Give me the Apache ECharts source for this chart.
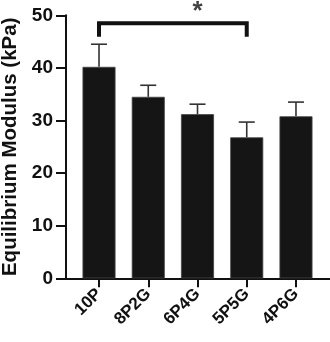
<!DOCTYPE html>
<html>
<head>
<meta charset="utf-8">
<script src="https://cdn.jsdelivr.net/npm/echarts@6/dist/echarts.min.js"></script>
<style>html,body{margin:0;padding:0;background:#fff}#c{width:330px;height:342px}</style>
</head>
<body>
<div id="c"></div>
<script>
var categories = ['10P', '8P2G', '6P4G', '5P5G', '4P6G'];
var means = [40.2, 34.5, 31.2, 26.8, 30.8];
var errors = [4.3, 2.2, 1.9, 2.9, 2.7];
var yTicks = [0, 10, 20, 30, 40, 50];
var sigBracket = { from: '10P', to: '5P5G', level: 48.5, legBottom: 45.9, label: '*', labelLevel: 50.7 };

var FONT = 'Liberation Sans, Arial, Helvetica, sans-serif';
var chart = echarts.init(document.getElementById('c'), null, { renderer: 'canvas' });

var errData = categories.map(function (c, i) { return [i, means[i], means[i] + errors[i]]; });
var fromIdx = categories.indexOf(sigBracket.from), toIdx = categories.indexOf(sigBracket.to);

chart.setOption({
  animation: false,
  grid: [
    { left: 74.4, right: 9.4, top: 15.3, bottom: 63.7, containLabel: false, outerBoundsMode: 'none' },
    { left: 66, right: 0, top: 15.3, bottom: 63.7, containLabel: false, outerBoundsMode: 'none' }
  ],
  xAxis: [
    {
      type: 'category', gridIndex: 0, data: categories,
      axisLine: { show: false },
      axisTick: { show: true, alignWithLabel: true, length: 9, lineStyle: { color: '#111', width: 2 } },
      axisLabel: { rotate: 45, margin: 13, color: '#111', fontFamily: FONT, fontWeight: 'bold', fontSize: 17 }
    },
    {
      type: 'value', gridIndex: 1, min: 0, max: 1,
      axisLine: { show: true, lineStyle: { color: '#111', width: 2 } },
      axisTick: { show: false }, axisLabel: { show: false }, splitLine: { show: false }
    }
  ],
  yAxis: [
    {
      type: 'value', gridIndex: 0, min: yTicks[0], max: yTicks[yTicks.length - 1], interval: 10, offset: 8.4,
      name: 'Equilibrium Modulus (kPa)', nameLocation: 'middle', nameGap: 42,
      nameTextStyle: { color: '#111', fontFamily: FONT, fontWeight: 'bold', fontSize: 20.5 },
      axisLine: { show: true, lineStyle: { color: '#111', width: 2 } },
      axisTick: { show: true, length: 10, lineStyle: { color: '#111', width: 2 } },
      axisLabel: { margin: 13, color: '#111', fontFamily: FONT, fontWeight: 'bold', fontSize: 19 },
      splitLine: { show: false }
    },
    { type: 'value', gridIndex: 1, show: false, min: 0, max: 1 }
  ],
  series: [
    {
      type: 'bar', xAxisIndex: 0, yAxisIndex: 0, data: means, barWidth: 33,
      itemStyle: { color: '#151515', borderColor: '#444', borderWidth: 0.8 }
    },
    {
      type: 'custom', xAxisIndex: 0, yAxisIndex: 0, data: errData, z: 1,
      renderItem: function (params, api) {
        var top = api.coord([api.value(0), api.value(2)]);
        var base = api.coord([api.value(0), api.value(1)]);
        var half = 8;
        return {
          type: 'group',
          children: [
            { type: 'line', shape: { x1: top[0], y1: top[1], x2: base[0], y2: base[1] }, style: { stroke: '#333', lineWidth: 1.6 } },
            { type: 'line', shape: { x1: top[0] - half, y1: top[1], x2: top[0] + half, y2: top[1] }, style: { stroke: '#333', lineWidth: 1.6 } }
          ]
        };
      }
    },
    {
      type: 'line', xAxisIndex: 0, yAxisIndex: 0, symbol: 'none', silent: true,
      lineStyle: { color: '#111', width: 4, join: 'miter', cap: 'butt' },
      data: [[fromIdx, sigBracket.legBottom], [fromIdx, sigBracket.level], [toIdx, sigBracket.level], [toIdx, sigBracket.legBottom]]
    },
    {
      type: 'scatter', xAxisIndex: 0, yAxisIndex: 0, symbolSize: 0, clip: false, silent: true,
      data: [[(fromIdx + toIdx) / 2, sigBracket.labelLevel]],
      label: { show: true, position: 'inside', formatter: sigBracket.label, color: '#111', fontFamily: FONT, fontWeight: 'bold', fontSize: 26 }
    }
  ]
});
</script>
</body>
</html>
